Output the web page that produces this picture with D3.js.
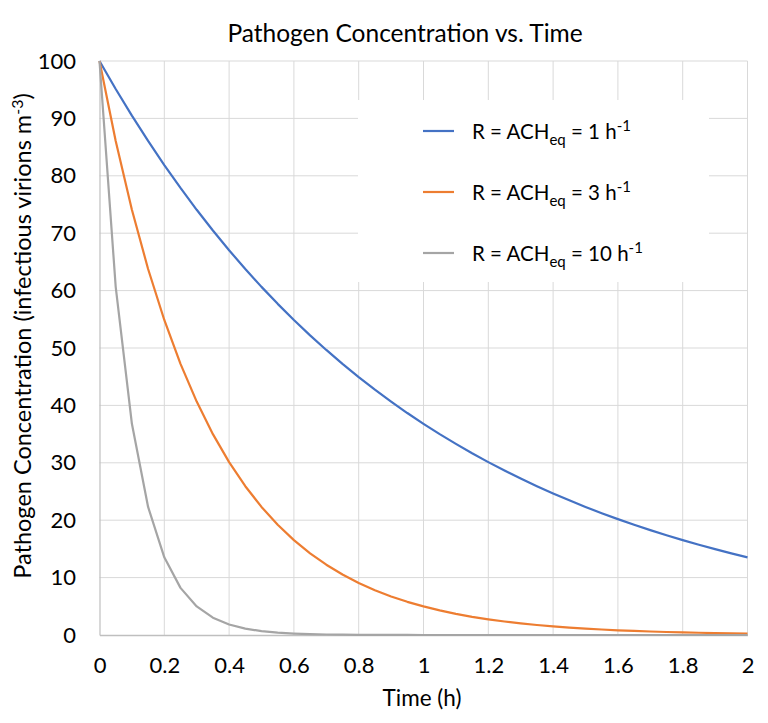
<!DOCTYPE html>
<html><head><meta charset="utf-8">
<script src="https://cdn.jsdelivr.net/npm/d3@7"></script>
<style>body{margin:0;background:#fff}svg{display:block}text{font-family:Lato,"Open Sans",sans-serif;fill:#000}</style>
</head><body><svg id="c" width="768" height="723"></svg>
<script>
const time = [0,0.05,0.1,0.15,0.2,0.25,0.3,0.35,0.4,0.45,0.5,0.55,0.6,0.65,0.7,0.75,0.8,0.85,0.9,0.95,1,1.05,1.1,1.15,1.2,1.25,1.3,1.35,1.4,1.45,1.5,1.55,1.6,1.65,1.7,1.75,1.8,1.85,1.9,1.95,2];
const r1 = [100,95.12,90.48,86.07,81.87,77.88,74.08,70.47,67.03,63.76,60.65,57.69,54.88,52.2,49.66,47.24,44.93,42.74,40.66,38.67,36.79,34.99,33.29,31.66,30.12,28.65,27.25,25.92,24.66,23.46,22.31,21.22,20.19,19.2,18.27,17.38,16.53,15.72,14.96,14.23,13.53];
const r3 = [100,86.07,74.08,63.76,54.88,47.24,40.66,34.99,30.12,25.92,22.31,19.2,16.53,14.23,12.25,10.54,9.07,7.81,6.72,5.78,4.98,4.29,3.69,3.17,2.73,2.35,2.02,1.74,1.5,1.29,1.11,0.96,0.82,0.71,0.61,0.52,0.45,0.39,0.33,0.29,0.25];
const r10 = [100,60.65,36.79,22.31,13.53,8.21,4.98,3.02,1.83,1.11,0.67,0.41,0.25,0.15,0.09,0.06,0.03,0.02,0.01,0.01,0,0,0,0,0,0,0,0,0,0,0,0,0,0,0,0,0,0,0,0,0];
const seriesNames = ["1","3","10"];
const seriesColors = ["#4472C4","#ED7D31","#A5A5A5"];
const xTicks = [0,0.2,0.4,0.6,0.8,1,1.2,1.4,1.6,1.8,2];
const yTicks = [0,10,20,30,40,50,60,70,80,90,100];
const title = "Pathogen Concentration vs. Time";
const xTitle = "Time (h)";

const svg = d3.select("#c");
const L=99.5, R=747.5, T=61, B=635;
const x = d3.scaleLinear().domain([0,2]).range([L,R]);
const y = d3.scaleLinear().domain([0,100]).range([B,T]);

// gridlines
svg.append("g").selectAll("line").data(yTicks.filter(d=>d>0)).join("line")
  .attr("x1",L).attr("x2",R).attr("y1",d=>y(d)).attr("y2",d=>y(d))
  .attr("stroke","#D9D9D9").attr("stroke-width",1);
svg.append("g").selectAll("line").data(xTicks.filter(d=>d>0)).join("line")
  .attr("x1",d=>x(d)).attr("x2",d=>x(d)).attr("y1",T).attr("y2",B)
  .attr("stroke","#D9D9D9").attr("stroke-width",1);

// axes
const yAxis = svg.append("g").attr("transform",`translate(${L},0)`)
  .call(d3.axisLeft(y).tickValues(yTicks).tickSize(0).tickPadding(23.5));
yAxis.select(".domain").attr("stroke","#BFBFBF").attr("stroke-width",1.2);
yAxis.selectAll("text").style("font-size","22px").style("font-family","Lato");
const xAxis = svg.append("g").attr("transform",`translate(0,${B})`)
  .call(d3.axisBottom(x).tickValues(xTicks).tickSize(0).tickPadding(22.5).tickFormat(d3.format("")));
xAxis.select(".domain").attr("stroke","#BFBFBF").attr("stroke-width",1.5);
xAxis.selectAll("text").style("font-size","22px").style("font-family","Lato");

// legend background
svg.append("rect").attr("x",358).attr("y",100).attr("width",351).attr("height",182).attr("fill","#fff");

// lines
const allSeries=[r1,r3,r10];
const line = d3.line().x((d,i)=>x(time[i])).y(d=>y(d));
svg.append("g").selectAll("path").data(allSeries).join("path")
  .attr("d",line).attr("fill","none")
  .attr("stroke",(d,i)=>seriesColors[i]).attr("stroke-width",2.2)
  .attr("stroke-linejoin","round");

// legend
const lg = svg.append("g").selectAll("g").data(seriesNames).join("g")
  .attr("transform",(d,i)=>`translate(0,${131+i*61})`);
lg.append("line").attr("x1",423).attr("x2",454).attr("y1",0).attr("y2",0)
  .attr("stroke",(d,i)=>seriesColors[i]).attr("stroke-width",2.2);
const lt = lg.append("text").attr("x",472).attr("y",7.5).style("font-size","20.5px");
lt.append("tspan").text("R = ACH");
lt.append("tspan").text("eq").attr("dy",6).style("font-size","15px");
lt.append("tspan").text(d=>" = "+d+" h").attr("dy",-6);
lt.append("tspan").text("-1").attr("dy",-8).style("font-size","15px");

// titles
svg.append("text").attr("x",405).attr("y",42).attr("text-anchor","middle")
  .style("font-size","24.5px").text(title);
svg.append("text").attr("x",422).attr("y",706).attr("text-anchor","middle")
  .style("font-size","22.5px").text(xTitle);
const yt = svg.append("text").attr("transform","translate(31,336) rotate(-90)")
  .attr("text-anchor","middle").style("font-size","23.5px");
yt.append("tspan").text("Pathogen Concentration (infectious virions m");
yt.append("tspan").text("-3").attr("dy",-8).style("font-size","16px");
yt.append("tspan").text(")").attr("dy",8);
</script></body></html>
